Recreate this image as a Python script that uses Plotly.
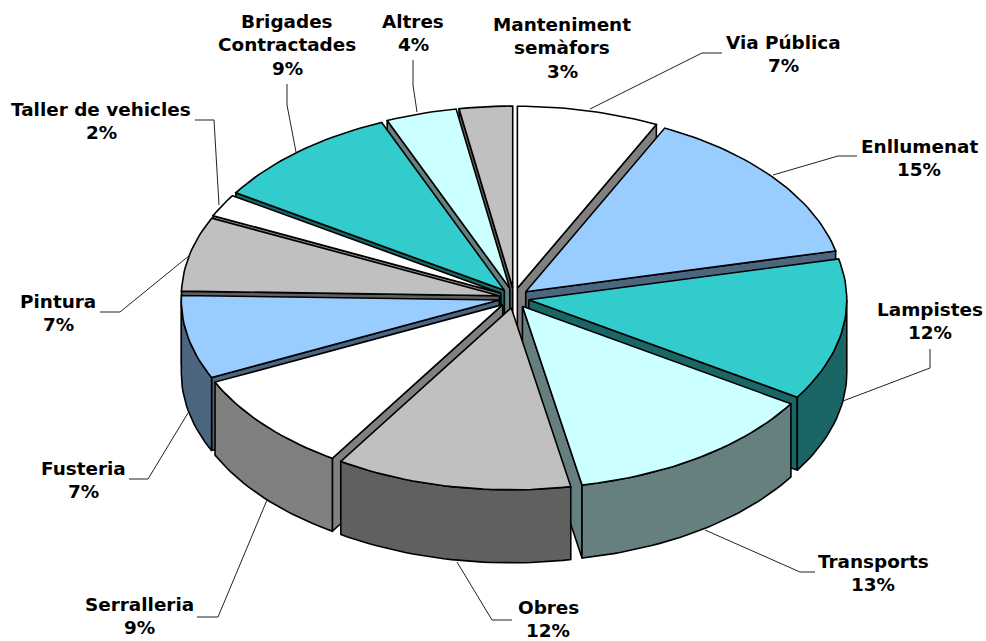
import math
import plotly.graph_objects as go

categories = ["Via Pública", "Enllumenat", "Lampistes", "Transports", "Obres", "Serralleria",
              "Fusteria", "Pintura", "Taller de vehicles", "Brigades Contractades", "Altres",
              "Manteniment semàfors"]
values = [7.2, 14.2, 12.6, 13, 12, 9, 7.4, 6.6, 2, 9.7, 3.6, 2.7]
percent_labels = ["7%", "15%", "12%", "13%", "12%", "9%", "7%", "7%", "2%", "9%", "4%", "3%"]
label_lines = [["Via Pública"], ["Enllumenat"], ["Lampistes"], ["Transports"], ["Obres"], ["Serralleria"],
               ["Fusteria"], ["Pintura"], ["Taller de vehicles"], ["Brigades", "Contractades"], ["Altres"],
               ["Manteniment", "semàfors"]]
top_colors = ["#FFFFFF", "#99CCFF", "#33CCCC", "#CCFFFF", "#C0C0C0", "#FFFFFF",
              "#99CCFF", "#C0C0C0", "#FFFFFF", "#33CCCC", "#CCFFFF", "#C0C0C0"]
side_colors = ["#808080", "#4D6680", "#1A6666", "#668080", "#606060", "#808080",
               "#4D6680", "#606060", "#808080", "#1A6666", "#668080", "#606060"]
label_x = [783, 919, 930, 873, 548, 139, 83, 58, 101, 287, 413, 562]
label_y = [42, 146, 309, 561, 607, 604, 468, 301, 109, 21, 21, 24]
leader_x = [[590, 702, 722], [773, 838, 857], [843, 930, 930], [705, 800, 815], [457, 492, 512],
            [267, 218, 197], [188, 148, 129], [190, 120, 100], [219, 214, 195], [296, 287, 287],
            [417, 413, 413], []]
leader_y = [[109, 53, 53], [175, 156, 156], [401, 368, 349], [530, 572, 572], [562, 620, 620],
            [500, 617, 617], [413, 479, 479], [255, 312, 312], [205, 120, 120], [152, 105, 84],
            [112, 85, 60], []]

CX, CY, RX, RY, DEPTH, EX, EY = 514, 298, 318, 182, 73, 15, 10
LINE_H = 23.6

fig = go.Figure()


def poly(xs, ys, fill):
    fig.add_trace(go.Scatter(x=xs + xs[:1], y=ys + ys[:1], mode="lines", fill="toself", fillcolor=fill,
                             line=dict(color="black", width=1.6), hoverinfo="skip", showlegend=False))


total = sum(values)
start = 0.0
slices = []
for i, v in enumerate(values):
    a0 = start / total * 2 * math.pi
    a1 = (start + v) / total * 2 * math.pi
    start += v
    slices.append((i, a0, a1))

# painter's order: back of the pie first
for i, a0, a1 in sorted(slices, key=lambda s: -math.cos((s[1] + s[2]) / 2)):
    mid = (a0 + a1) / 2
    tx = CX + EX * math.sin(mid)
    ty = CY - EY * math.cos(mid)
    n = max(4, int((a1 - a0) * 40))
    ax = [tx + RX * math.sin(a0 + (a1 - a0) * k / n) for k in range(n + 1)]
    ay = [ty - RY * math.cos(a0 + (a1 - a0) * k / n) for k in range(n + 1)]
    # radial walls, only those that face the viewer
    if math.sin(a0) < 0:
        poly([tx, ax[0], ax[0], tx], [ty, ay[0], ay[0] + DEPTH, ty + DEPTH], side_colors[i])
    if math.sin(a1) > 0:
        poly([tx, ax[-1], ax[-1], tx], [ty, ay[-1], ay[-1] + DEPTH, ty + DEPTH], side_colors[i])
    # rim wall: only the part of the arc that faces the viewer
    r0, r1 = max(a0, math.pi / 2), min(a1, 3 * math.pi / 2)
    if r1 > r0:
        m = max(4, int((r1 - r0) * 40))
        rx = [tx + RX * math.sin(r0 + (r1 - r0) * k / m) for k in range(m + 1)]
        ry = [ty - RY * math.cos(r0 + (r1 - r0) * k / m) for k in range(m + 1)]
        poly(rx + rx[::-1], ry + [y + DEPTH for y in ry[::-1]], side_colors[i])
    # top face
    poly([tx] + ax, [ty] + ay, top_colors[i])

for lx, ly in zip(leader_x, leader_y):
    if lx:
        fig.add_trace(go.Scatter(x=lx, y=ly, mode="lines", line=dict(color="#222222", width=1),
                                 hoverinfo="skip", showlegend=False))

for i, lines in enumerate(label_lines):
    for k, text in enumerate(lines + [percent_labels[i]]):
        fig.add_annotation(x=label_x[i], y=label_y[i] + k * LINE_H, text=text, showarrow=False,
                           xanchor="center", yanchor="middle",
                           font=dict(family="DejaVu Sans", size=18.4, color="black", weight="bold"))

fig.update_layout(width=986, height=641, margin=dict(l=0, r=0, t=0, b=0), plot_bgcolor="white",
                  paper_bgcolor="white",
                  xaxis=dict(range=[0, 986], visible=False, fixedrange=True),
                  yaxis=dict(range=[641, 0], visible=False, fixedrange=True))
fig.write_html("out.html", config={"displayModeBar": False},
               post_script="document.body.style.margin='0';document.documentElement.style.overflow='hidden';")
